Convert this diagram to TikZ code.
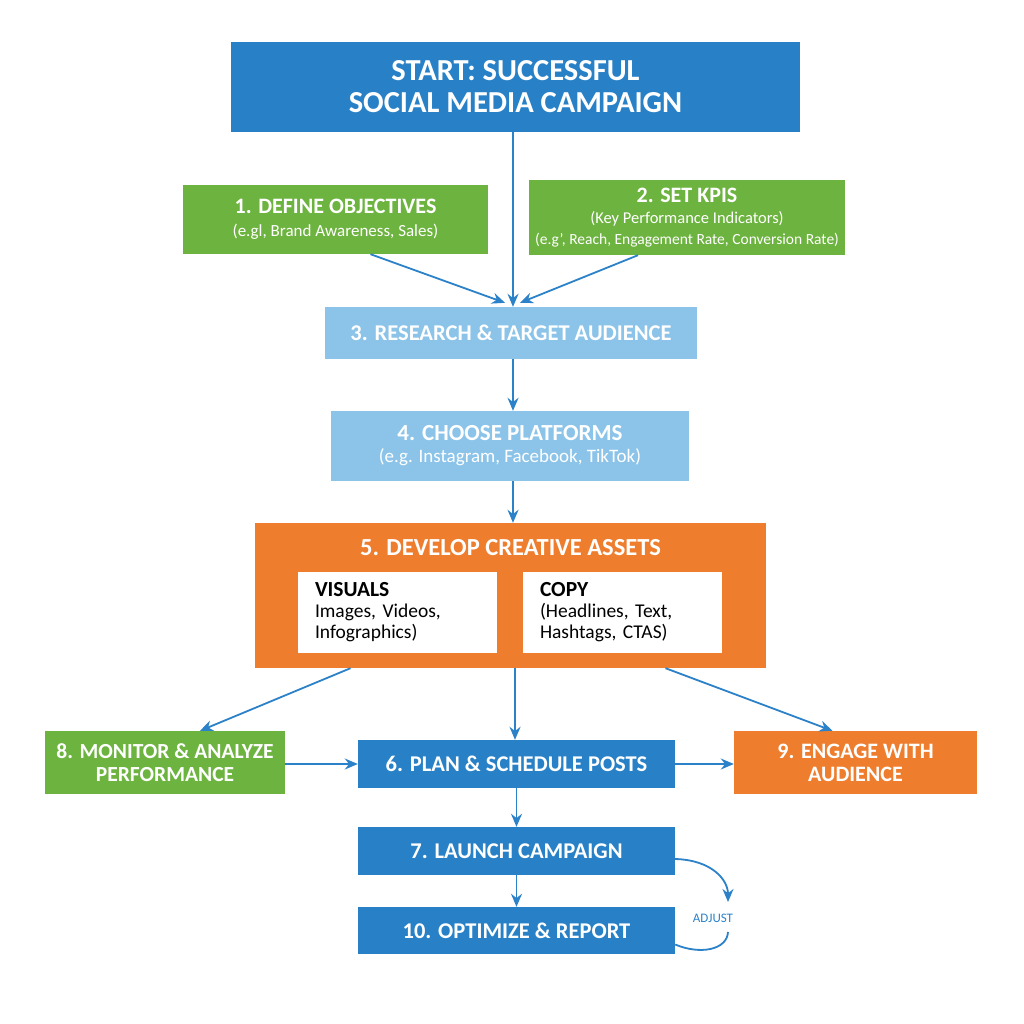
\documentclass[tikz,border=0pt]{standalone}
\usepackage{fontspec}
\setmainfont{Carlito}
\usetikzlibrary{arrows.meta,calc}

\definecolor{stepblue}{HTML}{2881C6}
\definecolor{stepgreen}{HTML}{6DB33F}
\definecolor{steplight}{HTML}{8CC4E9}
\definecolor{steporange}{HTML}{EE7E2E}
\definecolor{arrowblue}{HTML}{2C82C9}

\tikzset{
  box/.style={rectangle, inner sep=0pt, align=center, text=white},
  head/.style={font=\fontsize{22.5}{26}\selectfont\bfseries},
  inner/.style={box, fill=white, text=black, minimum width=199pt, minimum height=81pt,
    text width=165pt, align=left, font=\fontsize{19.5}{21}\selectfont},
  arr/.style={draw=arrowblue, line width=1.8pt, -{Stealth[length=13pt,width=11pt]}},
}

\begin{document}
\begin{tikzpicture}[x=1pt,y=-1pt]
\useasboundingbox[fill=white] (0,0) rectangle (1024,1024);
% Drawing boxes
\node[box, fill=stepblue, minimum width=569pt, minimum height=90pt,
  font=\fontsize{30.5}{32}\selectfont\bfseries] (start) at (515.5,87)
  {START: SUCCESSFUL\\SOCIAL MEDIA CAMPAIGN};
\node[box, fill=stepgreen, minimum width=305pt, minimum height=69pt,
  font=\fontsize{17}{23}\selectfont] (b1) at (335.5,219.5)
  {{\fontsize{22}{26}\selectfont\bfseries 1. DEFINE OBJECTIVES}\\
   (e.gl, Brand Awareness, Sales)};
\node[box, fill=stepgreen, minimum width=316pt, minimum height=75pt,
  font=\fontsize{16.5}{21}\selectfont] (b2) at (687,217.5)
  {{\fontsize{22}{26}\selectfont\bfseries 2. SET KPIS}\\
   (Key Performance Indicators)\\
   {\fontsize{15.5}{21}\selectfont (e.g', Reach, Engagement Rate, Conversion Rate)}};
\node[box, fill=steplight, minimum width=372pt, minimum height=52pt, head] (b3) at (511,333)
  {3. RESEARCH \& TARGET AUDIENCE};
\node[box, fill=steplight, minimum width=358pt, minimum height=70pt,
  font=\fontsize{19}{22}\selectfont] (b4) at (510,446)
  {{\fontsize{23}{26}\selectfont\bfseries 4. CHOOSE PLATFORMS}\\
   (e.g. Instagram, Facebook, TikTok)};
\node[box, fill=steporange, minimum width=511pt, minimum height=145pt] (b5) at (510.5,595.5) {};
\node[box, font=\fontsize{24.5}{28}\selectfont\bfseries] (b5t) at (510.5,548) {5. DEVELOP CREATIVE ASSETS};
\node[inner] (vis) at (397.5,612.5)
  {{\fontsize{21.5}{24}\selectfont\bfseries VISUALS}\\
   Images, Videos,\\Infographics)};
\node[inner] (cop) at (622.5,612.5)
  {{\fontsize{21.5}{24}\selectfont\bfseries COPY}\\
   (Headlines, Text,\\Hashtags, CTAS)};
\node[box, fill=stepgreen, minimum width=240pt, minimum height=63pt,
  font=\fontsize{21.5}{23}\selectfont\bfseries] (b8) at (165,762.5)
  {8. MONITOR \& ANALYZE\\PERFORMANCE};
\node[box, fill=stepblue, minimum width=317pt, minimum height=48pt, head] (b6) at (516.5,764)
  {6. PLAN \& SCHEDULE POSTS};
\node[box, fill=steporange, minimum width=243pt, minimum height=63pt,
  font=\fontsize{22}{23}\selectfont\bfseries] (b9) at (855.5,762.5)
  {9. ENGAGE WITH\\AUDIENCE};
\node[box, fill=stepblue, minimum width=317pt, minimum height=48pt, head] (b7) at (516.5,851)
  {7. LAUNCH CAMPAIGN};
\node[box, fill=stepblue, minimum width=317pt, minimum height=47pt, head] (b10) at (516.5,930.5)
  {10. OPTIMIZE \& REPORT};
\node[text=arrowblue, font=\fontsize{13}{15}\selectfont] (adj) at (713,918) {ADJUST};
\coordinate (adjtop) at (728,902);
\coordinate (adjbot) at (728,932);
% Drawing arrows
\draw[arr] ($(start.south)+(-2.5,0)$) -- ($(b3.north)+(2,0)$);
\draw[arr] ($(b1.south)+(35,0)$) -- ($(b3.north)+(-6,-4)$);
\draw[arr] ($(b2.south)+(-49,0)$) -- ($(b3.north)+(9,-4)$);
\draw[arr] ($(b3.south)+(2,0)$) -- ($(b4.north)+(3,0)$);
\draw[arr] ($(b4.south)+(3,0)$) -- ($(b5.north)+(2.5,0)$);
\draw[arr] ($(b5.south)+(-160,0)$) -- ($(b8.north)+(35,0)$);
\draw[arr] ($(b5.south)+(4.5,0)$) -- ($(b6.north)+(-1.5,0)$);
\draw[arr] ($(b5.south)+(155,0)$) -- ($(b9.north)+(-23,0)$);
\draw[arr] (b8.east |- b6.west) -- (b6.west);
\draw[arr] (b6.east) -- (b9.west |- b6.east);
\draw[arr] (b6.south) -- (b7.north);
\draw[arr] (b7.south) -- (b10.north);
\draw[arr] ($(b7.east)+(0,8)$) .. controls (712,860) and (728,880) .. (adjtop);
\draw[draw=arrowblue, line width=1.8pt] (adjbot) .. controls (727,950) and (700,955) .. ($(b10.east)+(0,14)$);
\end{tikzpicture}
\end{document}
